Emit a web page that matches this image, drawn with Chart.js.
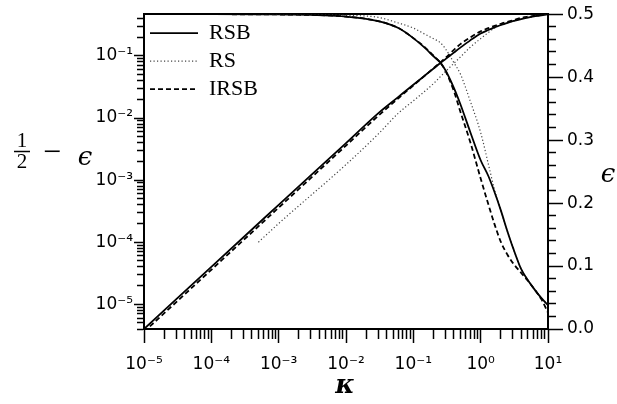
<!DOCTYPE html>
<html>
<head>
<meta charset="utf-8">
<script src="https://cdn.jsdelivr.net/npm/chart.js@4.4.1/dist/chart.umd.min.js"></script>
<style>
  html, body { margin: 0; padding: 0; background: #fff; }
  canvas { display: block; }
</style>
</head>
<body>
<canvas id="chart" width="617" height="404"></canvas>
<script>
// kappa grid
const kappa = [1e-5, 1e-4, 5e-4, 1e-3, 0.01, 0.03, 0.06, 0.1, 0.15, 0.2, 0.25, 0.3, 0.4, 0.5, 0.7, 1, 1.3, 1.6, 2, 2.5, 3, 4, 5, 6.5, 8, 10];

// 1/2 - eps, read on the left (log) axis
const gapRSB  = [4.0e-6, 4.0e-5, 2.0e-4, 4.0e-4, 3.95e-3, 0.0119, 0.0219, 0.0343, 0.0488, 0.0627, 0.0763, 0.0888, 0.113, 0.136, 0.178, 0.230, 0.262, 0.288, 0.315, 0.341, 0.362, 0.393, 0.414, 0.436, 0.452, 0.468];
const gapRS   = [null, null, 1.0e-4, 2.0e-4, 1.78e-3, 5.5e-3, 0.012, 0.0189, 0.0273, 0.036, 0.046, 0.056, 0.076, 0.096, 0.138, 0.190, 0.238, 0.280, 0.315, 0.341, 0.362, 0.393, 0.414, 0.436, 0.452, 0.468];
const gapIRSB = [3.6e-6, 3.6e-5, 1.8e-4, 3.6e-4, 3.6e-3, 0.0108, 0.0208, 0.0335, 0.0487, 0.0635, 0.078, 0.093, 0.125, 0.155, 0.198, 0.249, 0.280, 0.305, 0.330, 0.354, 0.374, 0.410, 0.428, 0.445, 0.458, 0.475];

// eps, read on the right (linear) axis
const epsRSB  = [0.5, 0.5, 0.4998, 0.4996, 0.4962, 0.489, 0.478, 0.462, 0.446, 0.433, 0.4235, 0.411, 0.383, 0.357, 0.313, 0.268, 0.243, 0.218, 0.188, 0.155, 0.130, 0.095, 0.078, 0.061, 0.049, 0.038];
const epsRS   = [null, null, 0.4999, 0.4998, 0.4982, 0.495, 0.486, 0.478, 0.468, 0.461, 0.455, 0.445, 0.423, 0.405, 0.362, 0.312, 0.262, 0.222, 0.188, 0.155, 0.130, 0.095, 0.078, 0.061, 0.049, 0.038];
const epsIRSB = [0.5, 0.5, 0.4998, 0.4996, 0.4962, 0.489, 0.478, 0.462, 0.447, 0.434, 0.4235, 0.410, 0.378, 0.345, 0.297, 0.239, 0.198, 0.167, 0.138, 0.118, 0.105, 0.089, 0.077, 0.061, 0.047, 0.026];

const seriesNames = ['RSB', 'RS', 'IRSB'];

// tick positions
const kappaDecades = [1e-5, 1e-4, 1e-3, 1e-2, 1e-1, 1, 10];
const gapDecades = [1e-6, 1e-5, 1e-4, 1e-3, 1e-2, 1e-1];
const epsMajor = [0, 0.1, 0.2, 0.3, 0.4, 0.5];
const epsStep = 0.02;

const SUP = { '-': '⁻', '0': '⁰', '1': '¹', '2': '²', '3': '³', '4': '⁴', '5': '⁵', '6': '⁶', '7': '⁷', '8': '⁸', '9': '⁹' };

function isDecade(v) {
  const l = Math.log10(v);
  return Math.abs(l - Math.round(l)) < 1e-6;
}
function pow10Label(v) {
  const e = String(Math.round(Math.log10(v)));
  return '10' + e.split('').map(c => SUP[c]).join('');
}
function logTicks(decades, min, max) {
  const out = [];
  decades.forEach(d => {
    for (let m = 1; m <= 9; m++) {
      const v = +(m * d).toPrecision(3);
      if (v >= min * 0.999 && v <= max * 1.001 && !out.includes(v)) out.push(v);
    }
  });
  return out.map(v => ({ value: v }));
}
const isEpsMajor = v => epsMajor.some(m => Math.abs(m - v) < 1e-6);
// minor ticks are shorter: only part of the tick line is stroked
function minorDash(isMinor, dash) {
  return c => (c.tick && isMinor(c.tick.value)) ? dash : [];
}

const styles = {
  RSB:  { borderColor: '#000', borderWidth: 1.8, borderDash: [] },
  RS:   { borderColor: '#444', borderWidth: 1.2, borderDash: [1.2, 2.3] },
  IRSB: { borderColor: '#000', borderWidth: 1.8, borderDash: [5, 3] }
};
const leftVals = { RSB: gapRSB, RS: gapRS, IRSB: gapIRSB };
const rightVals = { RSB: epsRSB, RS: epsRS, IRSB: epsIRSB };

function makeSet(name, axis, vals) {
  return Object.assign({
    label: name,
    data: kappa.map((k, i) => ({ x: k, y: vals[i] })),
    yAxisID: axis,
    pointRadius: 0,
    fill: false,
    cubicInterpolationMode: 'monotone',
    backgroundColor: '#000'
  }, styles[name]);
}

const datasets = [
  ...seriesNames.map(n => makeSet(n, 'yL', leftVals[n])),
  ...seriesNames.map(n => makeSet(n, 'yR', rightVals[n]))
];

const tickFont = { family: '"DejaVu Sans", "Liberation Sans", sans-serif', size: 17 };

const axisTitles = {
  id: 'axisTitles',
  afterDraw(chart) {
    const ctx = chart.ctx;
    ctx.save();
    ctx.fillStyle = '#000';
    ctx.strokeStyle = '#000';
    ctx.textAlign = 'center';
    ctx.textBaseline = 'alphabetic';
    // left: 1/2 - eps
    ctx.font = '21px "Liberation Serif", "DejaVu Serif", serif';
    ctx.fillText('1', 22, 147);
    ctx.fillText('2', 22, 168);
    ctx.lineWidth = 1.5;
    ctx.beginPath();
    ctx.moveTo(14, 151.5);
    ctx.lineTo(30, 151.5);
    ctx.stroke();
    ctx.font = '32px "Liberation Serif", "DejaVu Serif", serif';
    ctx.fillText('−', 52, 162);
    ctx.font = 'italic 26px "DejaVu Serif", serif';
    ctx.fillText('ϵ', 85, 165);
    // right: eps
    ctx.fillText('ϵ', 608, 182);
    // bottom: kappa
    ctx.font = 'italic bold 26px "DejaVu Serif", serif';
    ctx.fillText('κ', 345, 393);
    ctx.restore();
  }
};

new Chart(document.getElementById('chart'), {
  type: 'line',
  data: { datasets },
  options: {
    responsive: false,
    animation: false,
    devicePixelRatio: 1,
    layout: { padding: 0 },
    plugins: {
      tooltip: { enabled: false },
      legend: {
        position: 'chartArea',
        align: 'start',
        title: { display: true, text: '', font: { size: 1 }, padding: { top: 15, bottom: 0 } },
        labels: {
          usePointStyle: true,
          pointStyleWidth: 48,
          padding: 6,
          color: '#000',
          font: { family: '"Liberation Serif", "Times New Roman", serif', size: 22 },
          generateLabels: chart => chart.data.datasets.slice(0, 3).map((ds, i) => ({
            text: ds.label,
            datasetIndex: i,
            hidden: false,
            fontColor: '#000',
            strokeStyle: ds.borderColor,
            fillStyle: ds.borderColor,
            lineWidth: ds.borderWidth,
            lineDash: ds.borderDash,
            pointStyle: 'line'
          }))
        }
      }
    },
    scales: {
      x: {
        type: 'logarithmic',
        position: 'bottom',
        min: 1e-5,
        max: 10,
        afterBuildTicks: s => { s.ticks = logTicks(kappaDecades, 1e-5, 10); },
        afterFit: s => { s.height = 75; },
        ticks: {
          autoSkip: false, maxRotation: 0, minRotation: 0, padding: 11,
          color: '#000', font: tickFont,
          callback: v => isDecade(v) ? pow10Label(v) : ''
        },
        grid: {
          drawOnChartArea: false, tickLength: 14, tickWidth: 1.5, tickColor: '#000',
          tickBorderDash: minorDash(v => !isDecade(v), [9, 100])
        },
        border: { display: true, color: '#000', width: 2 }
      },
      xTop: {
        type: 'logarithmic',
        position: 'top',
        min: 1e-5,
        max: 10,
        afterFit: s => { s.height = 14; },
        ticks: { display: false },
        grid: { display: false },
        border: { display: true, color: '#000', width: 2 }
      },
      yL: {
        type: 'logarithmic',
        position: 'left',
        min: 4e-6,
        max: 0.47,
        afterBuildTicks: s => { s.ticks = logTicks(gapDecades, 4e-6, 0.47); },
        afterFit: s => { s.width = 144; },
        ticks: {
          autoSkip: false, padding: 1, color: '#000', font: tickFont,
          callback: v => isDecade(v) ? pow10Label(v) : ''
        },
        grid: {
          drawOnChartArea: false, tickLength: 10, tickWidth: 1.5, tickColor: '#000',
          tickBorderDash: minorDash(v => !isDecade(v), [0, 3, 7, 100])
        },
        border: { display: true, color: '#000', width: 2 }
      },
      yR: {
        type: 'linear',
        position: 'right',
        min: 0,
        max: 0.5,
        afterBuildTicks: s => {
          const t = [];
          for (let i = 0; i <= Math.round(0.5 / epsStep); i++) t.push({ value: +(i * epsStep).toFixed(2) });
          s.ticks = t;
        },
        afterFit: s => { s.width = 69; },
        ticks: {
          autoSkip: false, padding: 4, color: '#000', font: tickFont,
          callback: v => isEpsMajor(v) ? v.toFixed(1) : ''
        },
        grid: {
          drawOnChartArea: false, tickLength: 15, tickWidth: 1.5, tickColor: '#000',
          tickBorderDash: minorDash(v => !isEpsMajor(v), [7, 100])
        },
        border: { display: true, color: '#000', width: 2 }
      }
    }
  },
  plugins: [axisTitles]
});
</script>
</body>
</html>
